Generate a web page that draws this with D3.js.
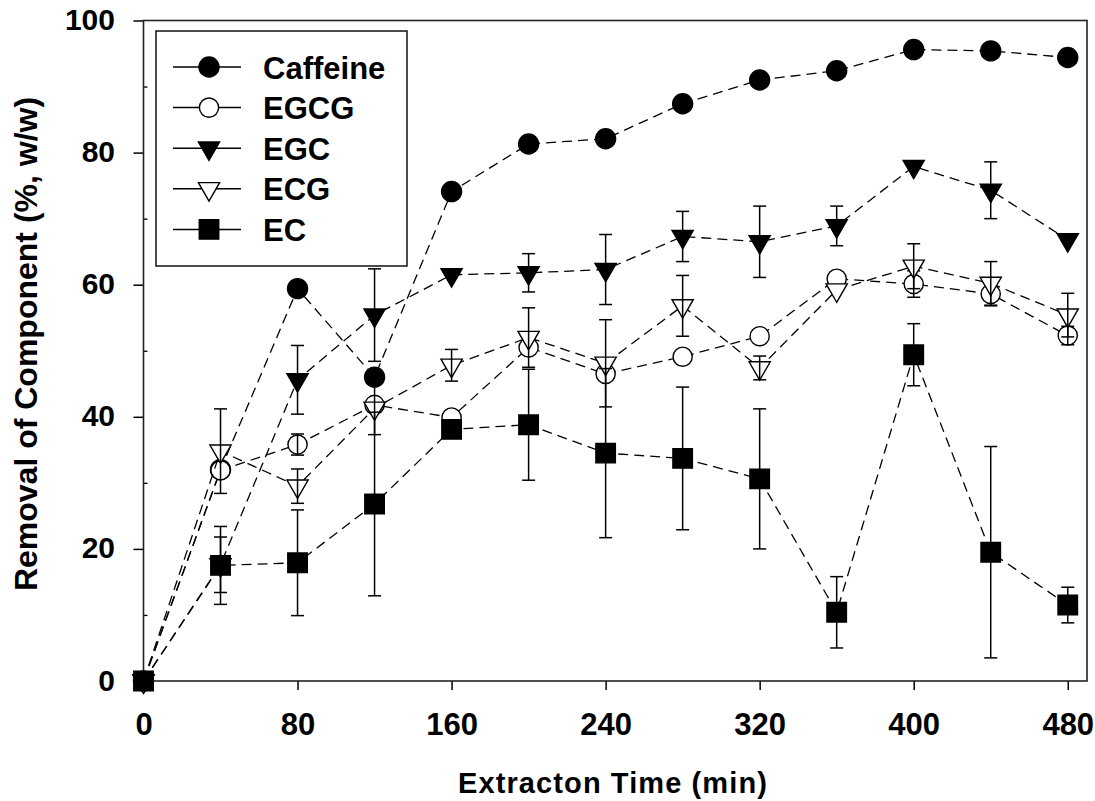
<!DOCTYPE html>
<html>
<head>
<meta charset="utf-8">
<script src="https://cdn.jsdelivr.net/npm/d3@7"></script>
<style>
  html, body { margin: 0; padding: 0; background: #fff; }
  svg { display: block; }
  text { font-family: "Liberation Sans", Arial, sans-serif; font-weight: bold; fill: #000; }
</style>
</head>
<body>
<svg id="chart" width="1095" height="801"></svg>
<script>
// Extraction time points (min)
const times = [0, 40, 80, 120, 160, 200, 240, 280, 320, 360, 400, 440, 480];

// Removal of each component (% w/w) and its error
const caffeine    = [0, 32.0, 59.4, 46.0, 74.1, 81.3, 82.1, 87.4, 91.0, 92.4, 95.6, 95.4, 94.4];
const caffeineErr = [0, 0, 0, 0, 0, 0, 0, 0, 0, 0, 0, 0, 0];
const egcg        = [0, 31.9, 35.8, 41.8, 39.9, 50.5, 46.5, 49.1, 52.2, 60.9, 60.1, 58.6, 52.3];
const egcgErr     = [0, 0, 1.6, 0, 0, 0, 0, 0, 0, 0, 2.0, 1.8, 1.4];
const egc         = [0, 17.6, 45.6, 55.4, 61.5, 61.8, 62.3, 67.3, 66.5, 68.9, 77.9, 74.3, 66.8];
const egcErr      = [0, 4.2, 5.2, 7.0, 0, 2.9, 5.3, 3.8, 5.4, 3.0, 0, 4.3, 0];
const ecg         = [0, 34.8, 29.5, 41.3, 47.8, 52.0, 48.1, 56.8, 47.4, 59.2, 62.8, 60.2, 55.4];
const ecgErr      = [0, 6.4, 2.6, 4.0, 2.4, 4.5, 6.6, 4.6, 1.8, 0, 3.4, 3.3, 3.3];
const ec          = [0, 17.5, 17.9, 26.8, 38.1, 38.8, 34.5, 33.7, 30.6, 10.4, 49.4, 19.5, 11.5];
const ecErr       = [0, 5.9, 8.0, 13.9, 0, 8.4, 12.8, 10.8, 10.6, 5.4, 4.7, 16.0, 2.7];

const seriesNames = ["Caffeine", "EGCG", "EGC", "ECG", "EC"];

// Axis ticks
const xTicks = [0, 80, 160, 240, 320, 400, 480];
const yTicks = [0, 20, 40, 60, 80, 100];
const yMinorTicks = [10, 30, 50, 70, 90];

const xTitle = "Extracton Time (min)";
const yTitle = "Removal of Component (%, w/w)";

// ---- layout ----
const plot = { left: 143.5, right: 1087, top: 20.5, bottom: 681 };

const x = d3.scaleLinear().domain([0, 490]).range([plot.left, plot.right]);
const y = d3.scaleLinear().domain([0, 100]).range([plot.bottom, plot.top]);

const svg = d3.select("#chart");

// symbol shapes
const symbolStyles = {
  "Caffeine": { type: d3.symbolCircle,   size: Math.PI * 10 * 10, fill: "#000", rotate: 0 },
  "EGCG":     { type: d3.symbolCircle,   size: Math.PI * 9.6 * 9.6, fill: "#fff", rotate: 0 },
  "EGC":      { type: d3.symbolTriangle, size: 195, fill: "#000", rotate: 180 },
  "ECG":      { type: d3.symbolTriangle, size: 195, fill: "#fff", rotate: 180 },
  "EC":       { type: d3.symbolSquare,   size: 19.5 * 19.5, fill: "#000", rotate: 0 }
};

const table = [
  { name: "Caffeine", values: caffeine, errs: caffeineErr },
  { name: "EGCG",     values: egcg,     errs: egcgErr },
  { name: "EGC",      values: egc,      errs: egcErr },
  { name: "ECG",      values: ecg,      errs: ecgErr },
  { name: "EC",       values: ec,       errs: ecErr }
].map(s => ({
  name: s.name,
  points: times.map((t, i) => ({ t, v: s.values[i], e: s.errs[i] }))
}));

// ---- axes ----
const xAxis = d3.axisBottom(x).tickValues(xTicks).tickSize(9).tickFormat(d3.format("d"));
const gx = svg.append("g").attr("transform", `translate(0,${plot.bottom})`).call(xAxis);
gx.select(".domain").remove();
gx.selectAll(".tick line").attr("stroke", "#000").attr("stroke-width", 1.5);
gx.selectAll(".tick text")
  .attr("y", 54).attr("dy", null)
  .style("font-size", "31px");

const yAxis = d3.axisLeft(y).tickValues(yTicks).tickSize(10).tickPadding(18.5).tickFormat(d3.format("d"));
const gy = svg.append("g").attr("transform", `translate(${plot.left},0)`).call(yAxis);
gy.select(".domain").remove();
gy.selectAll(".tick line").attr("stroke", "#000").attr("stroke-width", 1.5);
gy.selectAll(".tick text").style("font-size", "30px").attr("dy", "0.3em");

const yMinor = d3.axisLeft(y).tickValues(yMinorTicks).tickSize(-4).tickFormat("");
const gym = svg.append("g").attr("transform", `translate(${plot.left},0)`).call(yMinor);
gym.select(".domain").remove();
gym.selectAll(".tick line").attr("stroke", "#000").attr("stroke-width", 1.3);

// plot frame
svg.append("rect")
  .attr("x", plot.left).attr("y", plot.top)
  .attr("width", plot.right - plot.left).attr("height", plot.bottom - plot.top)
  .attr("fill", "none").attr("stroke", "#222").attr("stroke-width", 1.6);

// ---- series ----
const line = d3.line().x(d => x(d.t)).y(d => y(d.v));
const capHalf = 6.5;

table.forEach(s => {
  const st = symbolStyles[s.name];
  const g = svg.append("g").attr("class", "series");

  g.append("path")
    .datum(s.points)
    .attr("d", line)
    .attr("fill", "none")
    .attr("stroke", "#000")
    .attr("stroke-width", 1.3)
    .attr("stroke-dasharray", "10,6");

  g.selectAll("path.mark")
    .data(s.points)
    .join("path")
    .attr("class", "mark")
    .attr("d", d3.symbol(st.type, st.size))
    .attr("transform", d => `translate(${x(d.t)},${y(d.v)}) rotate(${st.rotate})`)
    .attr("fill", st.fill)
    .attr("stroke", "#000")
    .attr("stroke-width", 1.4);

  const eb = g.selectAll("g.err")
    .data(s.points.filter(d => d.e > 0))
    .join("g")
    .attr("class", "err")
    .attr("stroke", "#000")
    .attr("stroke-width", 1.5);
  eb.append("line")
    .attr("x1", d => x(d.t)).attr("x2", d => x(d.t))
    .attr("y1", d => y(d.v + d.e)).attr("y2", d => y(d.v - d.e));
  eb.append("line")
    .attr("x1", d => x(d.t) - capHalf).attr("x2", d => x(d.t) + capHalf)
    .attr("y1", d => y(d.v + d.e)).attr("y2", d => y(d.v + d.e));
  eb.append("line")
    .attr("x1", d => x(d.t) - capHalf).attr("x2", d => x(d.t) + capHalf)
    .attr("y1", d => y(d.v - d.e)).attr("y2", d => y(d.v - d.e));
});

// ---- legend ----
const legend = svg.append("g").attr("transform", "translate(156,31)");
legend.append("rect")
  .attr("width", 251).attr("height", 235)
  .attr("fill", "#fff").attr("stroke", "#111").attr("stroke-width", 1.5);

seriesNames.forEach((name, i) => {
  const st = symbolStyles[name];
  const ry = 36 + i * 40.6;
  const row = legend.append("g").attr("transform", `translate(0,${ry})`);
  row.append("line")
    .attr("x1", 17).attr("x2", 85).attr("y1", 0).attr("y2", 0)
    .attr("stroke", "#000").attr("stroke-width", 1.5);
  row.append("path")
    .attr("d", d3.symbol(st.type, st.size))
    .attr("transform", `translate(53,0) rotate(${st.rotate})`)
    .attr("fill", st.fill).attr("stroke", "#000").attr("stroke-width", 1.4);
  row.append("text")
    .attr("x", 107).attr("y", 11.5)
    .style("font-size", "31px")
    .text(name);
});

// ---- axis titles ----
svg.append("text")
  .attr("x", 613).attr("y", 793)
  .attr("text-anchor", "middle")
  .style("font-size", "29px")
  .style("letter-spacing", "1.1px")
  .text(xTitle);

svg.append("text")
  .attr("transform", "translate(36.5,344) rotate(-90)")
  .attr("text-anchor", "middle")
  .style("font-size", "32px")
  .text(yTitle);
</script>
</body>
</html>
